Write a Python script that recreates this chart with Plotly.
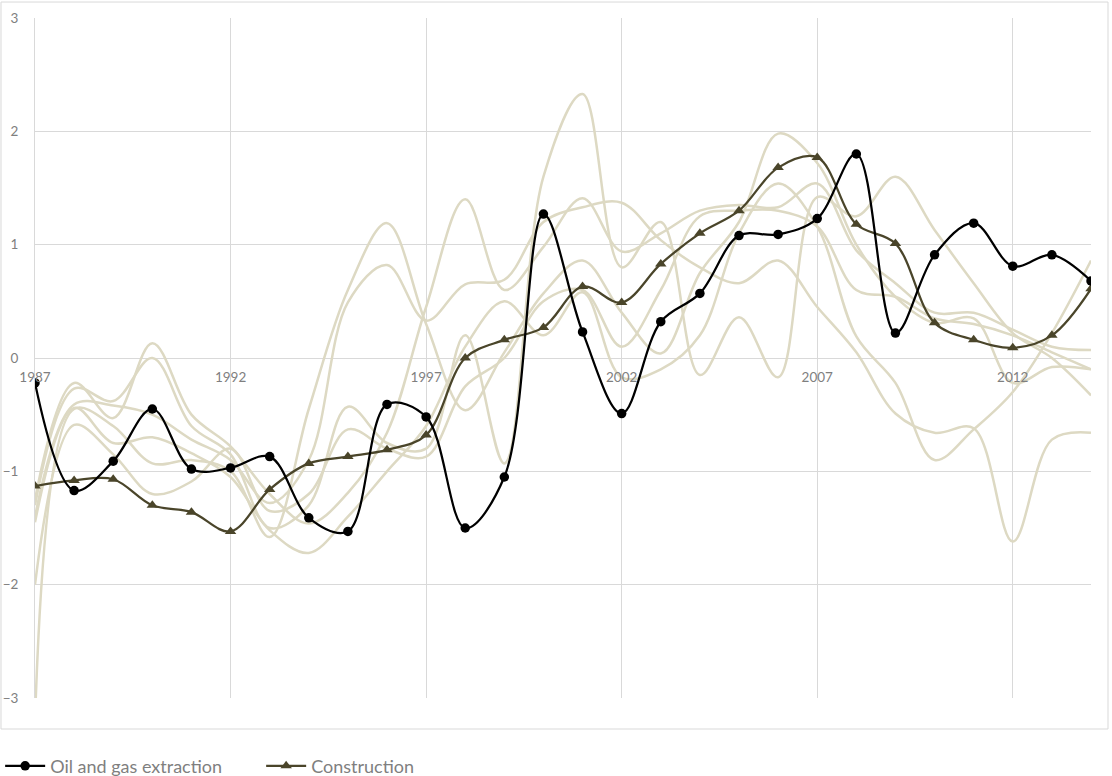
import plotly.graph_objects as go

years = list(range(1987, 2015))

oil_gas = [-0.22, -1.17, -0.91, -0.45, -0.98, -0.97, -0.87, -1.41, -1.53, -0.41,
           -0.52, -1.50, -1.05, 1.27, 0.23, -0.49, 0.32, 0.57, 1.08, 1.09,
           1.23, 1.80, 0.22, 0.91, 1.19, 0.81, 0.91, 0.68]

construction = [-1.13, -1.08, -1.07, -1.30, -1.36, -1.53, -1.16, -0.93, -0.87, -0.81,
                -0.68, 0.00, 0.16, 0.27, 0.63, 0.49, 0.83, 1.10, 1.30, 1.68,
                1.77, 1.18, 1.01, 0.31, 0.16, 0.09, 0.20, 0.61]

# other industries, drawn as a muted backdrop
other_a = [-1.30, -0.27, -0.38, 0.00, -0.60, -0.85, -1.50, -1.30, -0.43, -0.75,
           -0.80, 0.20, -0.93, 1.60, 2.33, 0.80, 1.20, -0.15, 0.36, -0.17,
           1.42, 1.25, 1.60, 1.13, 0.66, 0.22, 0.00, -0.33]
other_b = [-3.20, -0.45, -0.60, -0.93, -0.90, -1.00, -1.58, -0.45, 0.60, 1.19,
           0.30, -0.46, 0.05, 0.57, 0.86, 0.40, 0.04, 0.75, 1.20, 1.98,
           1.72, 1.00, 0.54, 0.31, 0.35, -0.22, -0.08, -0.10]
other_c = [-1.25, -0.22, -0.53, 0.13, -0.50, -0.78, -1.20, -1.46, -1.19, -0.66,
           0.45, 1.40, 0.60, 0.98, 1.41, 0.94, 1.10, 1.30, 1.35, 1.33,
           1.54, 0.95, 0.66, 0.40, 0.40, 0.25, 0.10, 0.07]
other_d = [-1.40, -0.41, -0.42, -0.50, -0.72, -0.90, -1.28, -0.90, 0.49, 0.82,
           0.33, 0.65, 0.69, 1.20, 1.33, 1.37, 1.04, 0.80, 0.66, 0.86,
           0.45, 0.05, -0.49, -0.66, -0.62, -1.62, -0.72, -0.66]
other_e = [-1.45, -0.44, -0.75, -0.70, -0.84, -1.05, -1.52, -1.72, -1.40, -1.00,
           -0.60, 0.10, 0.50, 0.20, 0.58, -0.17, -0.10, 0.20, 1.10, 1.54,
           1.16, 0.19, -0.22, -0.90, -0.63, -0.30, 0.22, 0.86]
other_f = [-2.00, -0.59, -0.85, -1.20, -1.09, -0.80, -1.35, -1.20, -0.63, -0.80,
           -0.87, -0.25, 0.00, 0.50, 0.60, 0.10, 0.60, 1.25, 1.30, 1.30,
           1.16, 0.60, 0.54, 0.35, 0.30, 0.20, 0.05, -0.10]

x_ticks = [1987, 1992, 1997, 2002, 2007, 2012]
y_ticks = [-3, -2, -1, 0, 1, 2, 3]

BEIGE = "#DDD9C3"
OLIVE = "#4A452A"
GRID = "#D9D9D9"
TEXT = "#7F7F7F"
FONT = "Lato, 'Open Sans', sans-serif"

fig = go.Figure()

for series in [other_a, other_b, other_c, other_d, other_e, other_f]:
    fig.add_trace(go.Scatter(
        x=years, y=series, mode="lines",
        line=dict(color=BEIGE, width=2.5, shape="spline", smoothing=1.0),
        showlegend=False, hoverinfo="skip",
    ))

fig.add_trace(go.Scatter(
    x=years, y=construction, mode="lines+markers", name="Construction",
    line=dict(color=OLIVE, width=2.25, shape="spline", smoothing=1.0),
    marker=dict(symbol="triangle-up", size=10, color=OLIVE),
    legendrank=2,
))

fig.add_trace(go.Scatter(
    x=years, y=oil_gas, mode="lines+markers", name="Oil and gas extraction",
    line=dict(color="#000000", width=2.25, shape="spline", smoothing=1.0),
    marker=dict(symbol="circle", size=9.5, color="#000000"),
    legendrank=1,
))

fig.update_layout(
    width=1112, height=776,
    margin=dict(l=35, r=21, t=18, b=78, autoexpand=False),
    paper_bgcolor="white", plot_bgcolor="white",
    font=dict(family=FONT, color=TEXT, size=13),
    xaxis=dict(
        range=[1987, 2014], tickvals=x_ticks, ticktext=[str(v) for v in x_ticks],
        showgrid=True, gridcolor=GRID, gridwidth=1,
        zeroline=False, showline=False, ticks="",
        anchor="free", position=0.5, ticklabelstandoff=9,
        tickfont=dict(size=13.5, color=TEXT), automargin=False,
    ),
    yaxis=dict(
        range=[-3, 3], tickvals=y_ticks,
        showgrid=True, gridcolor=GRID, gridwidth=1,
        zeroline=False, showline=True, linecolor=GRID, linewidth=1,
        ticks="", ticklabelstandoff=13,
        tickfont=dict(size=13.5, color=TEXT), automargin=False,
    ),
    legend=dict(
        orientation="h", x=-0.033, xanchor="left", y=-0.073, yanchor="top",
        font=dict(size=18, color=TEXT), itemwidth=40,
        entrywidth=206, entrywidthmode="pixels",
        bgcolor="rgba(0,0,0,0)",
    ),
    shapes=[dict(
        type="rect", xref="paper", yref="paper",
        x0=-0.0322, x1=1.0161, y0=-0.0456, y1=1.0235,
        line=dict(color=GRID, width=1), fillcolor="rgba(0,0,0,0)",
        layer="below",
    )],
)

fig.write_html("out.html")
